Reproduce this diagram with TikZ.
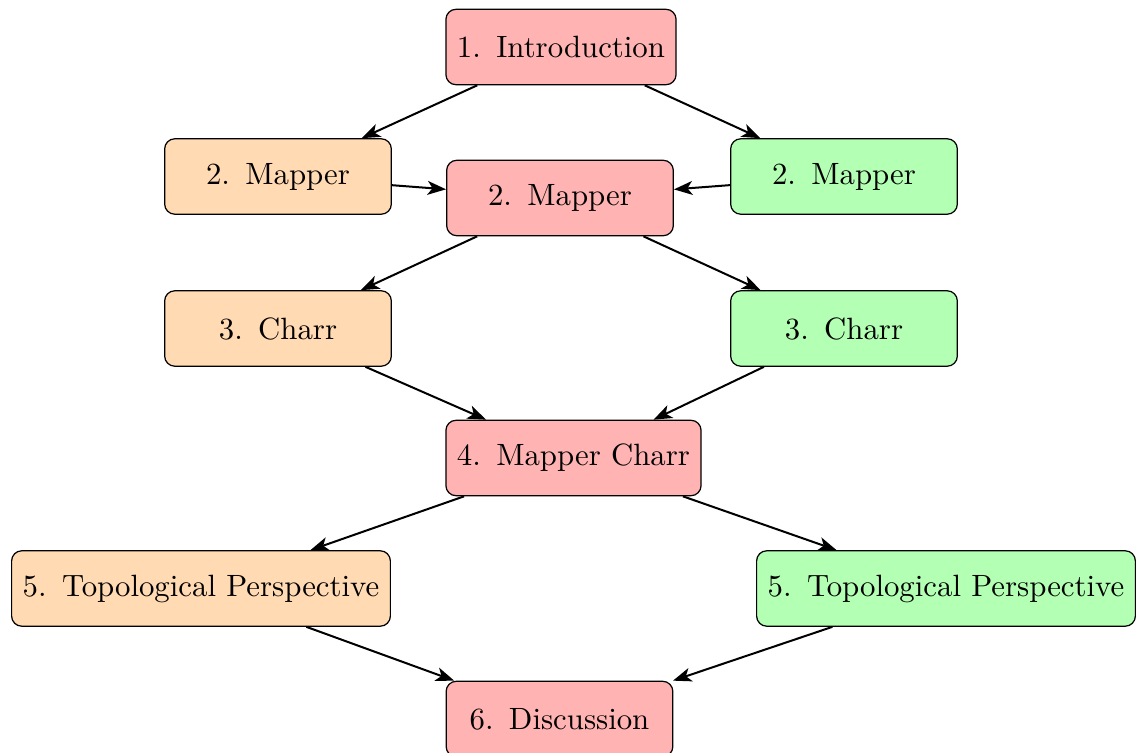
\documentclass[tikz,border=0pt]{standalone}
\usetikzlibrary{arrows.meta}
\definecolor{redfill}{RGB}{255,179,179}
\definecolor{orangefill}{RGB}{255,218,179}
\definecolor{greenfill}{RGB}{179,255,179}
\begin{document}
\begin{tikzpicture}[x=0.3247pt,y=-0.3247pt,
  box/.style={draw, rounded corners=3.3pt, minimum width=73.6pt, minimum height=24.5pt, inner xsep=3.6pt, inner ysep=3.33pt, font=\normalsize},
  redbox/.style={box, fill=redfill},
  orangebox/.style={box, fill=orangefill},
  greenbox/.style={box, fill=greenfill},
  link/.style={-{Stealth[length=6pt,width=4.5pt,inset=1.6pt]}, line width=0.65pt}]
\useasboundingbox (0,0) rectangle (1138,753);
\node[redbox] (intro) at (561,47) {1.\enspace Introduction};
\node[orangebox] (mapL) at (278,176.5) {2.\enspace Mapper};
\node[redbox] (mapC) at (560,198) {2.\enspace Mapper};
\node[greenbox] (mapR) at (844,176.5) {2.\enspace Mapper};
\node[orangebox] (charL) at (278,328.5) {3.\enspace Charr};
\node[greenbox] (charR) at (844,328.5) {3.\enspace Charr};
\node[redbox] (mc) at (573.5,458) {4.\enspace Mapper Charr};
\node[orangebox] (topoL) at (201,588.5) {5.\enspace Topological Perspective};
\node[greenbox] (topoR) at (946,588.5) {5.\enspace Topological Perspective};
\node[redbox] (disc) at (559.5,719) {6.\enspace Discussion};
\draw[link] (intro) -- (mapL);
\draw[link] (intro) -- (mapR);
\draw[link] (mapL) -- (mapC);
\draw[link] (mapR) -- (mapC);
\draw[link] (mapC) -- (charL);
\draw[link] (mapC) -- (charR);
\draw[link] (charL) -- (mc);
\draw[link] (charR) -- (mc);
\draw[link] (mc) -- (topoL);
\draw[link] (mc) -- (topoR);
\draw[link] (topoL) -- (disc);
\draw[link] (topoR) -- (disc);
\end{tikzpicture}
\end{document}
